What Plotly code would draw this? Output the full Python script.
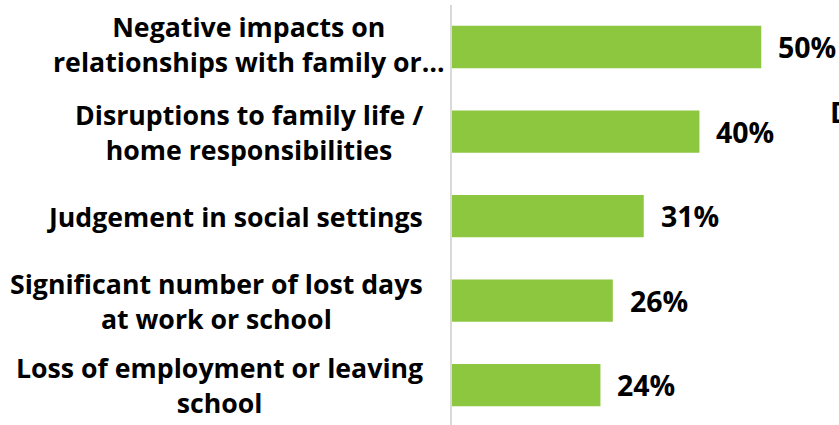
import plotly.graph_objects as go

# Impacts reported, share of respondents (%)
categories = [
    "Negative impacts on<br>relationships with family or…",
    "Disruptions to family life /<br>home responsibilities",
    "Judgement in social settings",
    "Significant number of lost days<br>at work or school",
    "Loss of employment or leaving<br>school",
]
values = [50, 40, 31, 26, 24]

BAR_COLOR = "#8DC63F"
FONT = "Open Sans"
LABEL_SIZE = 26.7
VALUE_SIZE = 28.5

fig = go.Figure(
    go.Bar(
        x=values,
        y=categories,
        orientation="h",
        marker=dict(color=BAR_COLOR, line=dict(width=0)),
        width=0.5,
        hoverinfo="skip",
    )
)

annotations = []
# category labels: centred lines, right edge just left of the axis line
label_xshift = {0: -5}
label_yshift = {0: 3}
for i, cat in enumerate(categories):
    annotations.append(dict(
        xref="paper", yref="y", x=0, y=cat,
        text=f"<b>{cat}</b>",
        xanchor="right", yanchor="middle", align="center",
        xshift=label_xshift.get(i, -27), yshift=label_yshift.get(i, 0),
        showarrow=False,
        font=dict(family=FONT, size=LABEL_SIZE, color="#000000"),
    ))

# value labels to the right of each bar
for cat, v in zip(categories, values):
    annotations.append(dict(
        xref="x", yref="y", x=v, y=cat,
        text=f"<b>{v}%</b>",
        xanchor="left", yanchor="middle", xshift=15,
        showarrow=False,
        font=dict(family=FONT, size=VALUE_SIZE, color="#000000"),
    ))

# heading of a neighbouring panel, running off the right edge
annotations.append(dict(
    xref="paper", yref="paper", x=1, y=1,
    text="<b>D</b>", xanchor="left", yanchor="top",
    xshift=42, yshift=-86,
    showarrow=False,
    font=dict(family=FONT, size=VALUE_SIZE, color="#000000"),
))

fig.update_layout(
    width=839, height=425,
    margin=dict(l=452, r=53, t=5, b=0),
    paper_bgcolor="white", plot_bgcolor="white",
    showlegend=False,
    font=dict(family=FONT, color="#000000"),
    xaxis=dict(range=[0, 54], visible=False, showgrid=False, zeroline=False),
    yaxis=dict(
        type="category",
        range=[4.473, -0.497],
        showticklabels=False, ticks="",
        showgrid=False, zeroline=False,
        showline=True, linecolor="#d9d9d9", linewidth=2,
    ),
    annotations=annotations,
)

fig.write_html("out.html")
